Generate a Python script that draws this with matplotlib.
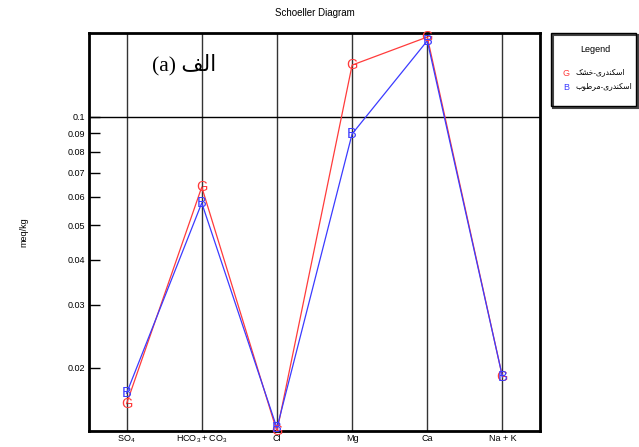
import numpy as np
import matplotlib.pyplot as plt
from matplotlib.patches import Rectangle
from matplotlib.ticker import FixedLocator, NullLocator

# ions along the x axis
ions = ["$\\mathregular{SO_4}$", "$\\mathregular{HCO_3 + CO_3}$", "Cl", "Mg", "Ca", "Na + K"]
# meq/kg
dry = [0.0159, 0.0638, 0.0133, 0.1395, 0.167, 0.0189]   # G
wet = [0.0170, 0.0576, 0.0136, 0.0897, 0.163, 0.0189]   # B
ytick_vals = [0.02, 0.03, 0.04, 0.05, 0.06, 0.07, 0.08, 0.09, 0.1]
ytick_labels = ["0.02", "0.03", "0.04", "0.05", "0.06", "0.07", "0.08", "0.09", "0.1"]
name_dry = "اسکندری-خشک"
name_wet = "اسکندری-مرطوب"
panel = "الف"

# small arabic shaper (matplotlib does no shaping): isolated, final, initial, medial
forms = {
    "ا": ("\uFE8D", "\uFE8E", None, None),
    "د": ("\uFEA9", "\uFEAA", None, None),
    "ر": ("\uFEAD", "\uFEAE", None, None),
    "و": ("\uFEED", "\uFEEE", None, None),
    "ل": ("\uFEDD", "\uFEDE", "\uFEDF", "\uFEE0"),
    "ف": ("\uFED1", "\uFED2", "\uFED3", "\uFED4"),
    "س": ("\uFEB1", "\uFEB2", "\uFEB3", "\uFEB4"),
    "ک": ("\uFB8E", "\uFB8F", "\uFB90", "\uFB91"),
    "ن": ("\uFEE5", "\uFEE6", "\uFEE7", "\uFEE8"),
    "ی": ("\uFBFC", "\uFBFD", "\uFBFE", "\uFBFF"),
    "خ": ("\uFEA5", "\uFEA6", "\uFEA7", "\uFEA8"),
    "ش": ("\uFEB5", "\uFEB6", "\uFEB7", "\uFEB8"),
    "م": ("\uFEE1", "\uFEE2", "\uFEE3", "\uFEE4"),
    "ط": ("\uFEC1", "\uFEC2", "\uFEC3", "\uFEC4"),
    "ب": ("\uFE8F", "\uFE90", "\uFE91", "\uFE92"),
}


def shape(s):
    out = []
    for i, ch in enumerate(s):
        if ch not in forms:
            out.append(ch)
            continue
        prev = s[i - 1] if i > 0 else ""
        nxt = s[i + 1] if i + 1 < len(s) else ""
        joins_prev = prev in forms and forms[prev][2] is not None
        joins_next = nxt in forms and forms[ch][2] is not None
        iso, fin, ini, med = forms[ch]
        if joins_prev and joins_next:
            out.append(med)
        elif joins_prev:
            out.append(fin)
        elif joins_next:
            out.append(ini)
        else:
            out.append(iso)
    return "".join(reversed(out))


plt.rcParams['font.family'] = ['Liberation Sans', 'DejaVu Sans']

fig = plt.figure(figsize=(6.39, 4.47), dpi=100)
ax = fig.add_axes([0.1393, 0.0358, 0.7058, 0.8904])

x = np.arange(len(ions))
red = "#ff3b3b"
blue = "#3b3bff"

# vertical guide lines at each ion and the 0.1 line
for xi in x:
    ax.axvline(xi, color="#333333", lw=1.0, zorder=1)
ax.axhline(0.1, color="black", lw=1.0, zorder=1)

ax.plot(x, dry, color=red, lw=0.9, zorder=3)
ax.plot(x, wet, color=blue, lw=0.9, zorder=3)
for xi, v in zip(x, dry):
    ax.text(xi, v, "G", color=red, fontsize=10.5, ha="center", va="center", zorder=4)
for xi, v in zip(x, wet):
    ax.text(xi, v, "B", color=blue, fontsize=10.5, ha="center", va="center", zorder=4)

ax.set_yscale("log")
ax.set_ylim(0.01334, 0.1714)
ax.set_xlim(-0.5, 5.5)
ax.yaxis.set_major_locator(FixedLocator(ytick_vals))
ax.yaxis.set_minor_locator(NullLocator())
ax.set_yticklabels(ytick_labels)
ax.set_xticks(x)
ax.set_xticklabels(ions)
ax.tick_params(axis="y", direction="in", length=8, width=1, labelsize=6.5, pad=3)
ax.tick_params(axis="x", length=0, labelsize=6.5, pad=2)
for sp in ax.spines.values():
    sp.set_linewidth(2)

ax.set_ylabel("meq/kg", fontsize=6.5, labelpad=28)
ax.set_title("Schoeller Diagram", fontsize=7, pad=12)

ax.text(0.34, 0.1395, "(a) " + shape(panel), fontsize=15.5,
        family=["Liberation Serif", "DejaVu Sans"], ha="left", va="center")

# legend box drawn on the figure
fig.patches.append(Rectangle((553 / 639, 1 - 108 / 447), 85 / 639, 73 / 447,
                             transform=fig.transFigure, fill=False, lw=1.5, ec="#444444"))
fig.patches.append(Rectangle((551 / 639, 1 - 106 / 447), 85 / 639, 73 / 447,
                             transform=fig.transFigure, fill=False, lw=1.0, ec="black"))
fig.text(595 / 639, 1 - 50 / 447, "Legend", fontsize=6.5, ha="center", va="center")
fig.text(566 / 639, 1 - 74 / 447, "G", color=red, fontsize=6.5, ha="center", va="center")
fig.text(566 / 639, 1 - 88 / 447, "B", color=blue, fontsize=6.5, ha="center", va="center")
fig.text(576 / 639, 1 - 72 / 447, shape(name_dry), fontsize=5.5, ha="left", va="center")
fig.text(576 / 639, 1 - 86 / 447, shape(name_wet), fontsize=5.5, ha="left", va="center")

fig.savefig("out.png", dpi=100)
